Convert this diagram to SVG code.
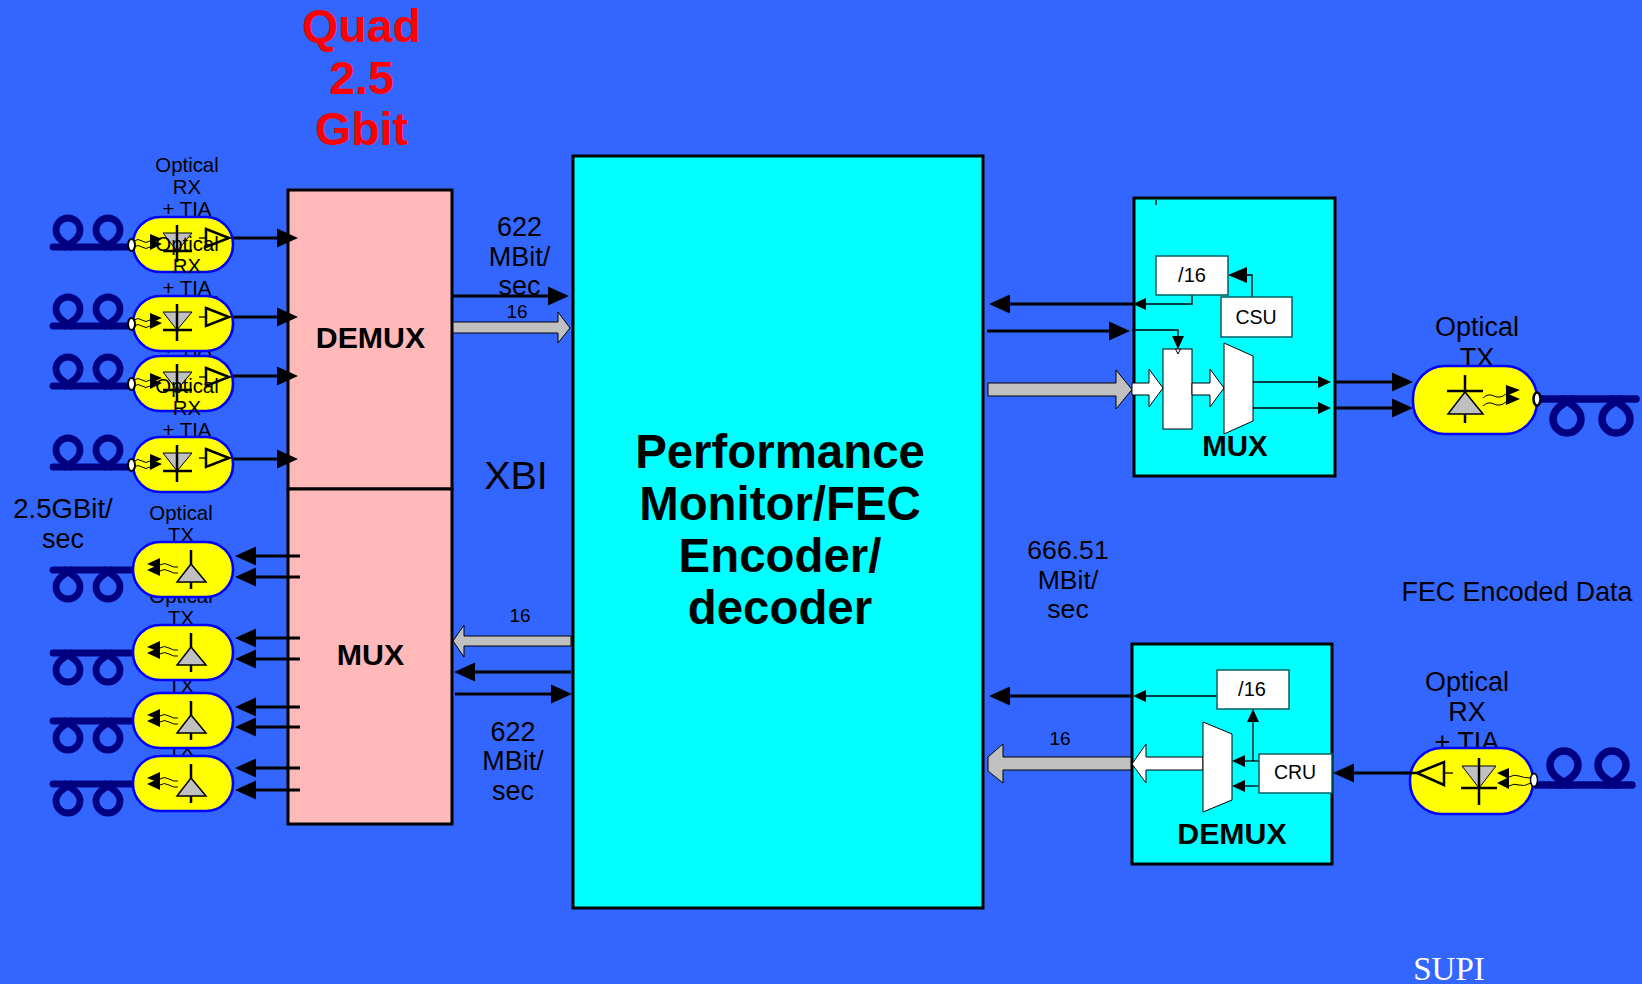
<svg xmlns="http://www.w3.org/2000/svg" width="1642" height="984" viewBox="0 0 1642 984">
<style>
text{font-family:"Liberation Sans",Arial,sans-serif;fill:#000;text-anchor:middle}
.lab{font-size:20.4px}.lab2{font-size:27px}.b{font-weight:bold}
.pill{fill:#ff0;stroke:#00f;stroke-width:2.6}
.fib{fill:none;stroke:#000080;stroke-width:6.800;stroke-linecap:round}
.fib2{fill:none;stroke:#000080;stroke-width:7.500;stroke-linecap:round}
.wave{fill:none;stroke:#000;stroke-width:1}
.gray{fill:#c0c0c0;stroke:#000;stroke-width:1}
.whi{fill:#fff;stroke:#000;stroke-width:1}
.wbox{fill:#fff;stroke:#006060;stroke-width:1.5}
.cy{fill:#0ff;stroke:#000;stroke-width:3}
.blk{fill:#000;stroke:none}
.thick{fill:none;stroke:#000;stroke-width:3;marker-end:url(#big)}
.thin{fill:none;stroke:#000;stroke-width:1.3;marker-end:url(#sm)}
.mid{fill:none;stroke:#000;stroke-width:1.3;marker-end:url(#md)}
.ln{fill:none;stroke:#000;stroke-width:2.5}
.ln1{fill:none;stroke:#000;stroke-width:1.3}
</style>
<defs>
<marker id="big" markerUnits="userSpaceOnUse" markerWidth="21" markerHeight="20" refX="16" refY="10" orient="auto"><path d="M0,0.5L21,10L0,19.500z" fill="#000"/></marker>
<marker id="md" markerUnits="userSpaceOnUse" markerWidth="19" markerHeight="17" refX="15" refY="8.500" orient="auto"><path d="M0,0.500L19,8.500L0,16.500z" fill="#000"/></marker>
<marker id="sm" markerUnits="userSpaceOnUse" markerWidth="13" markerHeight="13" refX="9" refY="6.500" orient="auto"><path d="M0,0.500L13,6.500L0,12.500z" fill="#000"/></marker>
<path id="loop" class="fib" d="M3,0C-7,-6 -12,-10 -12,-17A12,12 0 1 1 12,-17C12,-10 7,-6 -3,0"/>
<path id="loop2" class="fib2" d="M4,0C-8,-7 -14,-12 -14,-20A14,14 0 1 1 14,-20C14,-12 8,-7 -4,0"/>
<g id="rxmod">
<path class="fib" d="M-80,30H0"/>
<use href="#loop" x="-65" y="30"/>
<use href="#loop" x="-25" y="30"/>
<rect class="pill" x="0" y="0" width="100" height="55" rx="27" ry="27"/>
<ellipse cx="-1.500" cy="28" rx="3.500" ry="6" fill="#fff" stroke="#000" stroke-width="2"/>
<path class="wave" d="M1,24q4,-3 8,0t8,0M1,30q4,-3 8,0t8,0"/>
<path class="blk" d="M17,17L29,22L17,27zM17,22L29,27L17,33z"/>
<path class="gray" d="M30,16H59L44,34z"/>
<path class="ln" d="M44,8V45M30,34H59"/>
<path class="ln" d="M73,12L96,21L73,30z"/>
<path class="ln1" d="M66,21H73"/>
</g>
<g id="txmod">
<path class="fib" d="M-80,28H0"/>
<use href="#loop" transform="translate(-65,28) scale(1,-1)"/>
<use href="#loop" transform="translate(-25,28) scale(1,-1)"/>
<rect class="pill" x="0" y="0" width="100" height="55" rx="27" ry="27"/>
<path class="wave" d="M27,23q4,-3 9,0t9,2M27,29q4,-3 9,0t9,2"/>
<path class="blk" d="M27,16L14,22L27,27zM27,22L14,28L27,34z"/>
<path class="ln" d="M58,8V47"/>
<path d="M44,40H73L58,22z" fill="#c0c0c0" stroke="#000" stroke-width="1.500"/>
</g>
</defs>
<rect id="background" width="1642" height="984" fill="#3366ff"/>

<g id="title">
<text x="361.500" y="42" class="b" font-size="46.500" style="fill:#f00">Quad</text>
<text x="361.500" y="94" class="b" font-size="46.500" style="fill:#f00">2.5</text>
<text x="361.500" y="145" class="b" font-size="46.500" style="fill:#f00">Gbit</text>
</g>

<g id="demux-left">
<rect x="288" y="190" width="164" height="299" fill="#ffb9b9" stroke="#000" stroke-width="3"/>
<text x="370.500" y="348" class="b" font-size="30.300">DEMUX</text>
</g>
<g id="mux-left">
<rect x="288" y="489" width="164" height="335" fill="#ffb9b9" stroke="#000" stroke-width="3"/>
<text x="370.500" y="665" class="b" font-size="30.300">MUX</text>
</g>
<g id="fec-core">
<rect x="573" y="156" width="410" height="752" fill="#0ff" stroke="#000" stroke-width="3"/>
<text x="780" y="468" class="b" font-size="47.400">Performance</text>
<text x="780" y="520" class="b" font-size="47.400">Monitor/FEC</text>
<text x="780" y="572" class="b" font-size="47.400">Encoder/</text>
<text x="780" y="624" class="b" font-size="47.400">decoder</text>
</g>

<g id="connectors">
<path class="thick" d="M233,238H293"/>
<path class="thick" d="M233,317H293"/>
<path class="thick" d="M233,376H293"/>
<path class="thick" d="M233,459H293"/>
<path class="thick" d="M300,556H240"/>
<path class="thick" d="M300,577H240"/>
<path class="thick" d="M300,638H240"/>
<path class="thick" d="M300,659H240"/>
<path class="thick" d="M300,707H240"/>
<path class="thick" d="M300,727H240"/>
<path class="thick" d="M300,768H240"/>
<path class="thick" d="M300,790H240"/>
<path class="thick" d="M452,296H564"/>
<path class="gray" d="M453,322H558V312L570,328L558,343V333H453z"/>
<path class="gray" d="M571,636H464V625L453,641L464,657V646H571z"/>
<path class="thick" d="M571,672H459"/>
<path class="thick" d="M455,694H567"/>
<path class="thick" d="M1133,304H994"/>
<path class="thick" d="M987,331H1125"/>
<path class="gray" d="M988,383H1116V370L1132,389.500L1116,409V396H988z"/>
<path class="thick" d="M1133,696H994"/>
<path class="gray" d="M988,757L1003,744V757H1132V770H1003V783L988,771z"/>
<path class="thick" d="M1335,382H1408"/>
<path class="thick" d="M1335,408H1408"/>
<path class="thick" d="M1417,773H1338"/>
</g>

<g id="mux-right">
<rect class="cy" x="1134" y="198" width="201" height="278"/>
<path class="ln1" d="M1156,200V205"/>
<path class="thin" d="M1192,295V304H1137"/>
<path class="mid" d="M1252,297V275H1232"/>
<path class="thin" d="M1132,330H1178V345"/>
<rect class="wbox" x="1156" y="256" width="72" height="39"/>
<text x="1192" y="282" font-size="20">/16</text>
<rect class="wbox" x="1221" y="297" width="71" height="40"/>
<text x="1256" y="324" font-size="19.500">CSU</text>
<path class="whi" d="M1132,383H1149V369L1163,388L1149,407V395H1132z"/>
<rect class="whi" x="1163" y="349" width="29" height="80"/>
<path class="whi" d="M1175.500,349L1178,354L1180.500,349z"/>
<path class="whi" d="M1192,383H1210V369L1224,388L1210,407V395H1192z"/>
<path class="whi" d="M1224,343L1253,356V421L1224,434z"/>
<path class="thin" d="M1253,382H1327"/>
<path class="thin" d="M1253,408H1327"/>
<text x="1235" y="456" class="b" font-size="29.500">MUX</text>
</g>

<g id="demux-right">
<rect class="cy" x="1132" y="644" width="200" height="220"/>
<path class="thin" d="M1217,696H1137"/>
<rect class="wbox" x="1217" y="670" width="72" height="39"/>
<text x="1252" y="696" font-size="20">/16</text>
<path class="whi" d="M1132,764L1146,744V757H1203V770H1146V783z"/>
<path class="whi" d="M1203,722L1232,734V800L1203,812z"/>
<path class="thin" d="M1259,761H1236"/>
<path class="thin" d="M1259,786H1236"/>
<path class="thin" d="M1253,761V713"/>
<rect class="wbox" x="1259" y="754" width="73" height="39"/>
<text x="1295" y="779" font-size="19.500">CRU</text>
<text x="1232" y="844" class="b" font-size="30.300">DEMUX</text>
</g>

<g id="tx-labels">
<text class="lab" x="181" y="520">Optical</text><text class="lab" x="181" y="542">TX</text>
<text class="lab" x="181" y="603">Optical</text><text class="lab" x="181" y="625">TX</text>
<text class="lab" x="181" y="671">Optical</text><text class="lab" x="181" y="693">TX</text>
<text class="lab" x="181" y="734">Optical</text><text class="lab" x="181" y="756">TX</text>
</g>
<g id="tx-1"><use href="#txmod" x="133" y="542"/></g>
<g id="tx-2"><use href="#txmod" x="133" y="625"/></g>
<g id="tx-3"><use href="#txmod" x="133" y="693"/></g>
<g id="tx-4"><use href="#txmod" x="133" y="756"/></g>

<g id="rx-1">
<text class="lab" x="187" y="172">Optical</text><text class="lab" x="187" y="194">RX</text><text class="lab" x="187" y="216">+ TIA</text>
<use href="#rxmod" x="133" y="217"/>
</g>
<g id="rx-3">
<text class="lab" x="187" y="311">Optical</text><text class="lab" x="187" y="333">RX</text><text class="lab" x="187" y="355">+ TIA</text>
<use href="#rxmod" x="133" y="356"/>
</g>
<g id="rx-2">
<text class="lab" x="187" y="251">Optical</text><text class="lab" x="187" y="273">RX</text><text class="lab" x="187" y="295">+ TIA</text>
<use href="#rxmod" x="133" y="296"/>
</g>
<g id="rx-4">
<text class="lab" x="187" y="393">Optical</text><text class="lab" x="187" y="415">RX</text><text class="lab" x="187" y="437">+ TIA</text>
<use href="#rxmod" x="133" y="437"/>
</g>

<g id="tx-right">
<text class="lab2" x="1477" y="336">Optical</text><text class="lab2" x="1477" y="367">TX</text>
<path class="fib2" d="M1540,399H1636"/>
<use href="#loop2" transform="translate(1567,399) scale(1,-1)"/>
<use href="#loop2" transform="translate(1616,399) scale(1,-1)"/>
<rect class="pill" x="1413" y="366" width="124" height="68" rx="32" ry="32"/>
<ellipse cx="1537" cy="399" rx="3.500" ry="6.500" fill="#fff" stroke="#000" stroke-width="2.500"/>
<path class="wave" d="M1483,398q5,-5 11,-2t12,-2M1483,406q5,-5 11,-2t12,-2"/>
<path class="blk" d="M1506,385L1520,390L1506,396zM1506,393L1520,399L1506,405z"/>
<path class="ln" d="M1465,375V423M1447,391H1483"/>
<path d="M1448,414H1483L1465,392z" fill="#c0c0c0" stroke="#000" stroke-width="1.500"/>
</g>

<g id="rx-right">
<text class="lab2" x="1467" y="691">Optical</text><text class="lab2" x="1467" y="721">RX</text><text class="lab2" x="1467" y="751">+ TIA</text>
<path class="fib2" d="M1535,785H1632"/>
<use href="#loop2" x="1564" y="785"/>
<use href="#loop2" x="1612" y="785"/>
<rect class="pill" x="1410" y="748" width="123" height="66" rx="32" ry="32"/>
<ellipse cx="1534" cy="780" rx="3.500" ry="6.500" fill="#fff" stroke="#000" stroke-width="1.500"/>
<path class="wave" d="M1509,777q5,-3 10,-1t12,2M1509,786q5,-3 10,-1t12,-2"/>
<path class="blk" d="M1509,768L1497,773L1509,779zM1509,777L1497,783L1509,789z"/>
<path class="gray" d="M1462,766H1496L1479,788z"/>
<path class="ln" d="M1479,758V805M1461,788H1497"/>
<path class="ln" d="M1417,773L1444,762V785z"/>
<path class="ln1" d="M1444,773H1453"/>
<path class="ln" d="M1405,773H1417"/>
</g>

<g id="labels">
<text x="519.500" y="236" font-size="27">622</text>
<text x="519.500" y="266" font-size="27">MBit/</text>
<text x="519.500" y="295" font-size="27">sec</text>
<text x="517" y="318" font-size="19">16</text>
<text x="520" y="622" font-size="19">16</text>
<text x="513" y="741" font-size="27">622</text>
<text x="513" y="770" font-size="27">MBit/</text>
<text x="513" y="800" font-size="27">sec</text>
<text x="516" y="489" font-size="39.500">XBI</text>
<text x="63" y="518" font-size="27.500">2.5GBit/</text>
<text x="63" y="548" font-size="27">sec</text>
<text x="1068" y="559" font-size="26.600">666.51</text>
<text x="1068" y="589" font-size="26.600">MBit/</text>
<text x="1068" y="618" font-size="26.600">sec</text>
<text x="1060" y="745" font-size="19">16</text>
<text x="1517" y="601" font-size="26.800">FEC Encoded Data</text>
<text x="1449" y="980" font-size="33" style="font-family:'Liberation Serif',serif;fill:#fff">SUPI</text>
</g>
</svg>
